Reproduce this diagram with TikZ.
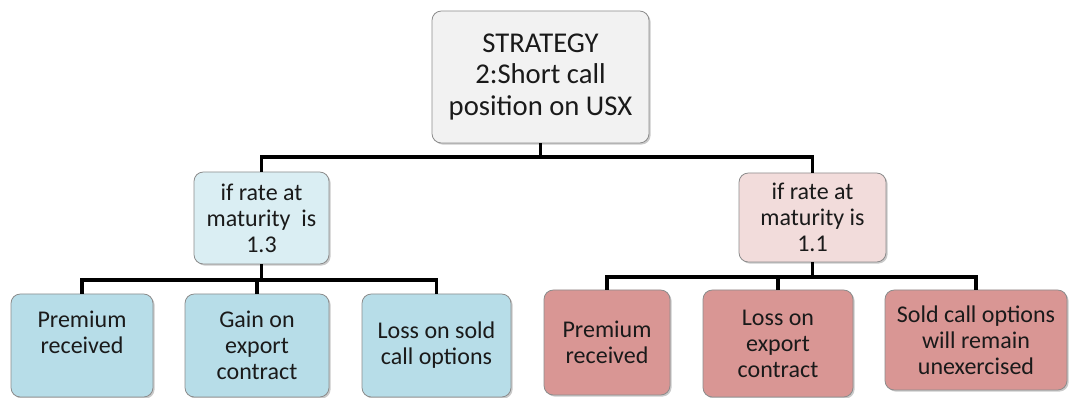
\documentclass[tikz,border=0pt]{standalone}
\usepackage{fontspec}
\setmainfont{Carlito}
\usetikzlibrary{shadows}

\definecolor{rootfill}{HTML}{F2F2F2}
\definecolor{midA}{HTML}{DAEEF3}
\definecolor{leafA}{HTML}{B7DDE8}
\definecolor{midB}{HTML}{F2DCDB}
\definecolor{leafB}{HTML}{D99694}
\definecolor{boxline}{HTML}{8C8C8C}
\definecolor{txt}{HTML}{1A1A1A}

\tikzset{
  box/.style={draw=boxline, line width=0.6pt, rounded corners=7pt, align=center,
    inner sep=2pt, text=txt, font=\fontsize{18}{19.5}\selectfont,
    drop shadow={shadow xshift=1.2pt, shadow yshift=-1.2pt, opacity=0.35, fill=black!60}},
  link/.style={line width=2.9pt, black, line join=miter},
}

\begin{document}
\begin{tikzpicture}[x=0.75pt,y=-0.75pt]
\useasboundingbox (0,0) rectangle (1071,398);

% top
\node[box, fill=rootfill, minimum width=162.75pt, minimum height=99pt,
  font=\fontsize{21.5}{23.3}\selectfont] (root) at (540.5,77)
  {STRATEGY\\2:Short call\\position on USX};

% rate 1.3 (left)
\node[box, fill=midA, minimum width=101.25pt, minimum height=69pt] (midL) at (261.5,218)
  {if rate at\\maturity~~is\\1.3};
\node[box, fill=leafA, minimum width=106.5pt, minimum height=77.25pt] (leafLa) at (82,345.5)
  {Premium\\received\\\mbox{}};
\node[box, fill=leafA, minimum width=108pt, minimum height=77.25pt] (leafLb) at (257,345.5)
  {Gain on\\export\\contract};
\node[box, fill=leafA, minimum width=111.75pt, minimum height=77.25pt] (leafLc) at (436.5,345.5)
  {Loss on sold\\call options};

% rate 1.1 (right)
\node[box, fill=midB, minimum width=110.25pt, minimum height=66.75pt] (midR) at (812.5,217.5)
  {if rate at\\maturity is\\1.1};
\node[box, fill=leafB, minimum width=94.5pt, minimum height=78.75pt] (leafRa) at (607,342.5)
  {Premium\\received};
\node[box, fill=leafB, minimum width=112.5pt, minimum height=80.25pt] (leafRb) at (778,343.5)
  {Loss on\\export\\contract};
\node[box, fill=leafB, minimum width=136.5pt, minimum height=75pt] (leafRc) at (976,340)
  {Sold call options\\will remain\\unexercised};

% connectors
\draw[link] (root.south) -- ++(0,14) -| (midL.north);
\draw[link] (root.south) -- ++(0,14) -| (midR.north);
\foreach \n in {leafLa,leafLb,leafLc}
  \draw[link] (midL.south) -- ++(0,16) -| (\n.north);
\foreach \n in {leafRa,leafRb,leafRc}
  \draw[link] (midR.south) -- ++(0,15) -| (\n.north);
\end{tikzpicture}
\end{document}
